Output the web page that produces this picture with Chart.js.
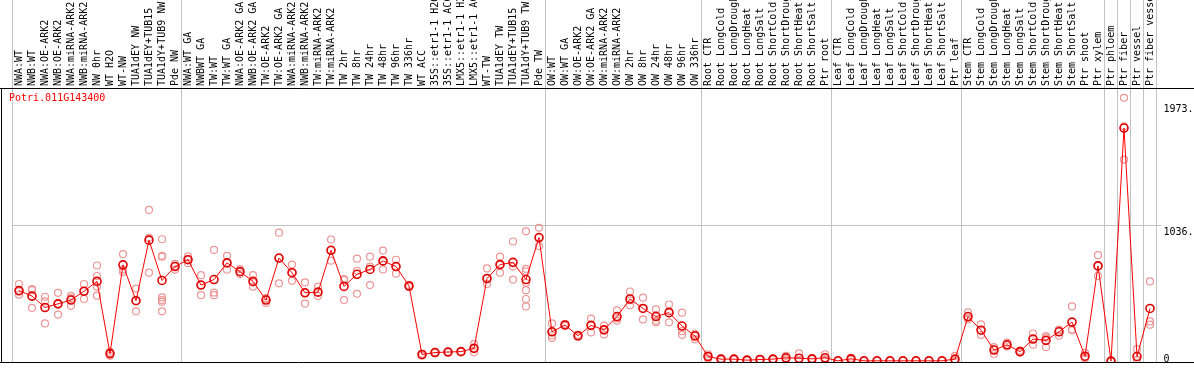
<!DOCTYPE html>
<html>
<head>
<meta charset="utf-8">
<script src="https://cdn.jsdelivr.net/npm/chart.js@4/dist/chart.umd.min.js"></script>
<style>
    body { margin: 0; background: #fff; }
    #wrap { position: relative; width: 1194px; height: 370px; }
    #geneTitle {
        position: absolute; left: 9px; top: 93px;
        font: 10px "DejaVu Sans Mono", monospace; color: #ff0000;
        line-height: 10px;
    }
</style>
</head>
<body>
<div id="wrap">
    <canvas id="chart" width="1194" height="370"></canvas>
    <div id="geneTitle">Potri.011G143400</div>
</div>
<script>
// sample names, left to right
const categories = [
    "NWA:WT", "NWB:WT", "NWA:OE-ARK2", "NWB:OE-ARK2", "NWA:miRNA-ARK2", "NWB:miRNA-ARK2",
    "NW 0hr", "WT H2O", "WT-NW", "TUA1dEY NW", "TUA1dEY+TUB15", "TUA1dY+TUB9 NW", "Pde NW",
    "NWA:WT GA", "NWBWT GA", "TW:WT", "TW:WT GA", "NWA:OE-ARK2 GA", "NWB:OE-ARK2 GA",
    "TW:OE-ARK2", "TW:OE-ARK2 GA", "NWA:miRNA-ARK2", "NWB:miRNA-ARK2", "TW:miRNA-ARK2",
    "TW:miRNA-ARK2", "TW 2hr", "TW 8hr", "TW 24hr", "TW 48hr", "TW 96hr", "TW 336hr",
    "WT ACC", "35S::etr1-1 H2O", "35S::etr1-1 ACC", "LMX5::etr1-1 H2O", "LMX5::etr1-1 ACC",
    "WT-TW", "TUA1dEY TW", "TUA1dEY+TUB15", "TUA1dY+TUB9 TW", "Pde TW",
    "OW:WT", "OW:WT GA", "OW:OE-ARK2", "OW:OE-ARK2 GA", "OW:miRNA-ARK2", "OW:miRNA-ARK2",
    "OW 2hr", "OW 8hr", "OW 24hr", "OW 48hr", "OW 96hr", "OW 336hr",
    "Root CTR", "Root LongCold", "Root LongDrought", "Root LongHeat", "Root LongSalt",
    "Root ShortCold", "Root ShortDrought", "Root ShortHeat", "Root ShortSalt", "Ptr root",
    "Leaf CTR", "Leaf LongCold", "Leaf LongDrought", "Leaf LongHeat", "Leaf LongSalt",
    "Leaf ShortCold", "Leaf ShortDrought", "Leaf ShortHeat", "Leaf ShortSalt", "Ptr leaf",
    "Stem CTR", "Stem LongCold", "Stem LongDrought", "Stem LongHeat", "Stem LongSalt",
    "Stem ShortCold", "Stem ShortDrought", "Stem ShortHeat", "Stem ShortSalt", "Ptr shoot",
    "Ptr xylem", "Ptr phloem", "Ptr fiber", "Ptr vessel", "Ptr fiber vessel"
];

// mean expression per sample
const meanValues = [
    537, 495, 408, 436, 465, 532, 607, 57, 733, 460, 921, 614, 720,
    772, 579, 621, 748, 681, 607, 465, 785, 673, 520, 525, 844, 569, 661, 698, 763, 720, 572,
    50, 65, 69, 72, 97, 629, 735, 752, 621, 941,
    223, 275, 193, 272, 238, 339, 473, 401, 339, 369, 267, 191,
    35, 15, 15, 7, 12, 15, 25, 22, 17, 25,
    2, 17, 2, 2, 2, 2, 2, 2, 2, 15,
    339, 235, 84, 124, 72, 168, 158, 223, 297, 37,
    725, 0, 1775, 35, 401
];

// individual replicates per sample
const replicates = [
    [587, 530, 505], [549, 540, 406], [490, 455, 287], [520, 436, 354], [497, 480, 421],
    [587, 532, 473], [728, 648, 567, 498], [72, 57, 40], [815, 696, 678], [552, 460, 379],
    [1151, 938, 673], [928, 802, 795, 485, 465, 451, 379], [740, 725, 696],
    [797, 775, 745], [654, 580, 502], [847, 522, 502], [802, 748, 696], [700, 680, 663],
    [654, 600, 567], [480, 470, 443], [978, 785, 592], [735, 673, 611], [599, 520, 438],
    [567, 525, 495], [926, 844, 765], [624, 618, 465], [780, 688, 512], [795, 720, 579],
    [842, 760, 698], [772, 720, 666], [580, 572, 565],
    [55, 50, 42], [70, 65, 60], [72, 69, 66], [75, 72, 69], [129, 97, 67],
    [706, 629, 587], [795, 735, 673], [911, 720, 621],
    [988, 703, 683, 596, 540, 473, 416], [1015, 941, 876],
    [287, 223, 195, 176], [282, 275, 268], [200, 193, 186], [324, 272, 218], [270, 240, 203],
    [386, 325, 307], [530, 463, 426], [483, 401, 317], [394, 350, 307, 295], [431, 380, 295],
    [369, 228, 200], [208, 198, 166],
    [52, 35, 18], [20, 15, 10], [18, 15, 12], [10, 7, 4], [15, 12, 9], [18, 15, 12],
    [40, 22, 13], [59, 5, 2], [20, 17, 14], [52, 15, 8],
    [3, 2, 1], [25, 17, 9], [3, 2, 1], [3, 2, 1], [3, 2, 1], [3, 2, 1], [3, 2, 1], [3, 2, 1],
    [3, 2, 1], [40, 3, 2],
    [371, 330, 317], [280, 235, 198], [106, 90, 54], [141, 124, 111], [80, 72, 64],
    [210, 170, 124], [190, 178, 106], [240, 235, 193], [416, 240, 235], [62, 30, 20],
    [807, 725, 648], [1, 0, 0], [2005, 1788, 1535], [91, 10, 5], [607, 302, 277]
];

const yTicks = [0, 1036, 1973];
const yTickLabels = ["0", "1036.", "1973."];
const yMin = -7;
const yMax = 2080;

// grid line index (left edge of that sample) where a group separator is drawn
const separatorIndexes = [0, 13, 41, 53, 63, 73, 84, 85, 86, 87];

const GRAY = "#c3c3c3";
const MONO = { family: "DejaVu Sans Mono", size: 10 };

const repCount = Math.max(...replicates.map((r) => r.length));
const repDatasets = [];
for (let k = 0; k < repCount; k++) {
    repDatasets.push({
        label: "rep " + (k + 1),
        data: replicates.map((r) => (k < r.length ? r[k] : null)),
        showLine: false,
        pointRadius: 3.5,
        pointBorderWidth: 1.2,
        pointBorderColor: "rgb(236, 150, 150)",
        pointBackgroundColor: "transparent",
    });
}

// black frame round the plot, plus the zero label
const framePlugin = {
    id: "frame",
    afterDraw(chart) {
        const ctx = chart.ctx;
        const area = chart.chartArea;
        const y = chart.scales.y;
        ctx.save();
        ctx.strokeStyle = "#000";
        ctx.lineWidth = 1;
        ctx.beginPath();
        ctx.moveTo(0, area.top + 0.5);
        ctx.lineTo(chart.width, area.top + 0.5);
        ctx.moveTo(0, area.bottom + 0.5);
        ctx.lineTo(chart.width, area.bottom + 0.5);
        ctx.moveTo(1.5, area.top);
        ctx.lineTo(1.5, area.bottom);
        ctx.stroke();
        ctx.fillStyle = "#000";
        ctx.font = "10px 'DejaVu Sans Mono'";
        ctx.textBaseline = "top";
        ctx.fillText(yTickLabels[0], y.left + 7, y.getPixelForValue(0) - 7);
        ctx.restore();
    },
};

const chart = new Chart(document.getElementById("chart"), {
    type: "line",
    data: {
        labels: categories,
        datasets: [
            {
                label: "mean",
                data: meanValues,
                borderColor: "#ff0000",
                borderWidth: 1,
                tension: 0,
                pointRadius: 4,
                pointBorderWidth: 1.6,
                pointBorderColor: "#e00000",
                pointBackgroundColor: "transparent",
            },
            ...repDatasets,
        ],
    },
    options: {
        responsive: false,
        devicePixelRatio: 1,
        animation: false,
        layout: { padding: { left: 12.5, right: 0, top: 0, bottom: 1 } },
        plugins: {
            legend: { display: false },
            tooltip: { enabled: false },
        },
        scales: {
            x: {
                type: "category",
                position: "top",
                offset: true,
                grid: {
                    offset: true,
                    tickLength: 88,
                    color: (ctx) =>
                        ctx.index === undefined || separatorIndexes.includes(ctx.index)
                            ? GRAY
                            : "transparent",
                },
                border: { color: "#000" },
                ticks: {
                    autoSkip: false,
                    minRotation: 90,
                    maxRotation: 90,
                    padding: -86,
                    labelOffset: 12,
                    font: MONO,
                    color: "#000",
                },
                afterFit: (scale) => {
                    scale.height = 88;
                },
            },
            y: {
                position: "right",
                min: yMin,
                max: yMax,
                afterBuildTicks: (scale) => {
                    scale.ticks = yTicks.map((v) => ({ value: v }));
                },
                afterFit: (scale) => {
                    scale.width = 37.5;
                },
                grid: {
                    tickLength: 5,
                    color: (ctx) =>
                        ctx.tick && ctx.tick.value === yTicks[1] ? GRAY : "transparent",
                },
                border: { display: false },
                ticks: {
                    padding: 2,
                    labelOffset: 7,
                    font: MONO,
                    color: "#000",
                    // zero label is drawn by the frame plugin
                    callback: (value, index) => (index === 0 ? "" : yTickLabels[index]),
                },
            },
        },
    },
    plugins: [framePlugin],
});
</script>
</body>
</html>
